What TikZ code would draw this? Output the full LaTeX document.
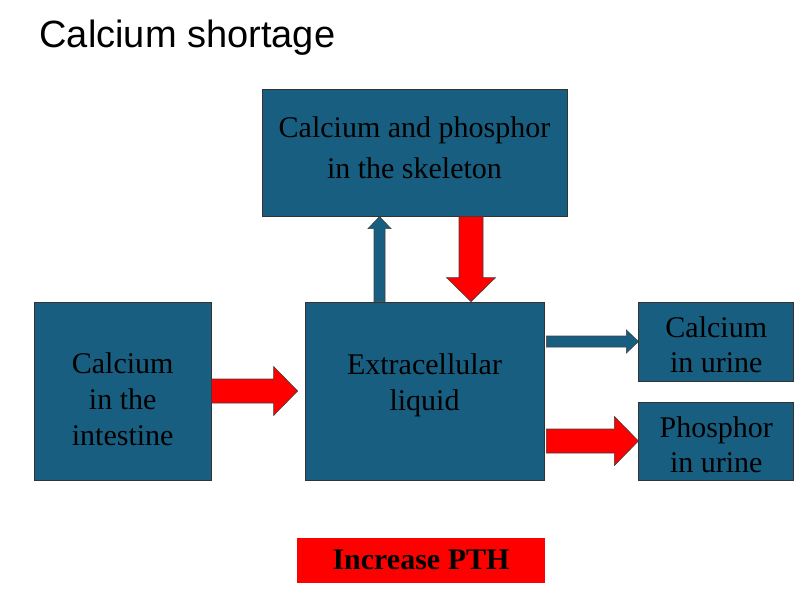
\documentclass[tikz,border=0pt]{standalone}
\usepackage{fontspec}
\setmainfont{Liberation Serif}
\newfontfamily\titlefont{Liberation Sans}
\usetikzlibrary{positioning,calc}
\definecolor{boxblue}{RGB}{24,94,128}
\tikzset{
	box/.style={rectangle, draw=black!80, fill=boxblue, line width=0.8pt, inner sep=0pt},
	boxtext/.style={align=center, inner sep=0pt, font=\fontsize{30}{36}\selectfont},
	fat/.style n args={3}{draw=black!75, line width=0.6pt, line join=miter,
		to path={($(\tikztostart)!#1!90:(\tikztotarget)$)
			-- ($($(\tikztotarget)!#3!(\tikztostart)$)!#1!-90:(\tikztostart)$)
			-- ($($(\tikztotarget)!#3!(\tikztostart)$)!#2!-90:(\tikztostart)$)
			-- (\tikztotarget)
			-- ($($(\tikztotarget)!#3!(\tikztostart)$)!#2!90:(\tikztostart)$)
			-- ($($(\tikztotarget)!#3!(\tikztostart)$)!#1!90:(\tikztostart)$)
			-- ($(\tikztostart)!#1!-90:(\tikztotarget)$)
			-- cycle}},
	redarrow/.style={fat={12pt}{24.5pt}{24pt}, fill=red},
	bluearrow/.style={fat={5.5pt}{11.5pt}{12pt}, fill=boxblue}
}
\begin{document}
\begin{tikzpicture}[x=1pt,y=-1pt]
\useasboundingbox (0,0) rectangle (802,605);
\node[font=\titlefont\fontsize{38}{44}\selectfont, anchor=base west] (title) at (36,47) {Calcium shortage};
% boxes
\node[box, minimum width=239pt, minimum height=178pt] (ecf) at (424.5,391) {};
\node[box, minimum width=305pt, minimum height=127pt] (skel) [above=85pt of ecf, xshift=-10pt] {};
\node[box, minimum width=177pt, minimum height=178pt] (gut) [left=93pt of ecf] {};
\node[box, minimum width=155pt, minimum height=79pt] (caurine) [right=94pt of ecf.north east, anchor=north west] {};
\node[box, minimum width=155pt, minimum height=78pt] (phurine) [right=94pt of ecf.south east, anchor=south west] {};
\node[rectangle, fill=red, minimum width=248pt, minimum height=45pt, inner sep=0pt, font=\fontsize{30}{36}\selectfont\bfseries] (pth) [below=57pt of ecf, xshift=-3.5pt] {Increase PTH};

% texts in the boxes
\node[boxtext] (ecftext) at ([yshift=6pt]ecf) {Extracellular\\liquid};
\node[boxtext, font=\fontsize{30}{41}\selectfont] (skeltext) at ([yshift=5pt]skel) {Calcium and phosphor\\in the skeleton};
\node[boxtext] (guttext) at ([yshift=-8pt]gut) {Calcium\\in the\\intestine};
\node[boxtext, font=\fontsize{30}{35}\selectfont] (cautext) at ([yshift=-3pt]caurine) {Calcium\\in urine};
\node[boxtext, font=\fontsize{30}{35}\selectfont] (phutext) at ([yshift=-3.5pt]phurine) {Phosphor\\in urine};

% block arrows
\coordinate (up) at ([xshift=-45pt]ecf.north);
\coordinate (down) at ([xshift=46.5pt]ecf.north);
\coordinate (gutend) at ([xshift=-7pt]ecf.west);
\draw[bluearrow] (up) to (up |- skel.south);
\draw[redarrow] (down |- skel.south) to (down);
\draw[redarrow] (gut.east) to (gutend);
\draw[bluearrow] ([xshift=2pt]ecf.east |- caurine.west) to (caurine.west);
\draw[redarrow] ([xshift=2pt]ecf.east |- phurine.west) to (phurine.west);
\end{tikzpicture}
\end{document}
